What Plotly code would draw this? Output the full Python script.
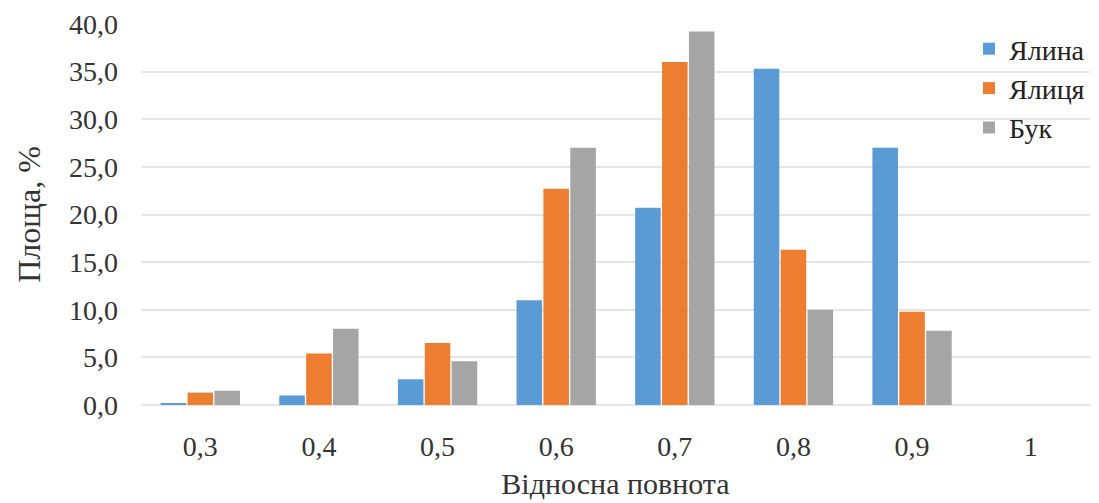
import plotly.graph_objects as go

categories = ["0,3", "0,4", "0,5", "0,6", "0,7", "0,8", "0,9", "1"]
yalyna = [0.2, 1.0, 2.7, 11.0, 20.7, 35.3, 27.0, 0.0]
yalytsia = [1.3, 5.4, 6.5, 22.7, 36.0, 16.3, 9.8, 0.0]
buk = [1.5, 8.0, 4.6, 27.0, 39.2, 10.0, 7.8, 0.0]
series_names = ["Ялина", "Ялиця", "Бук"]
colors = ["#5b9bd5", "#ed7d31", "#a5a5a5"]

font = "Liberation Serif, Times New Roman, serif"

fig = go.Figure()
for name, vals, c in zip(series_names, [yalyna, yalytsia, buk], colors):
    fig.add_trace(go.Bar(x=categories, y=vals, name=name, marker=dict(color=c, line=dict(width=0))))

fig.update_layout(
    width=1099, height=503,
    barmode="group", bargap=0.32, bargroupgap=0.05,
    separators=", ",
    plot_bgcolor="white", paper_bgcolor="white",
    margin=dict(l=133, r=17, t=16, b=106),
    font=dict(family=font, size=28, color="#333333"),
    legend=dict(x=1.0, y=1.0, xanchor="right", yanchor="top",
                font=dict(family=font, size=28, color="#222222"),
                bgcolor="rgba(255,255,255,0)", itemwidth=30, tracegroupgap=0),
    xaxis=dict(title=dict(text="Відносна повнота", font=dict(family=font, size=30, color="#333333"), standoff=11),
               tickfont=dict(family=font, size=28), showgrid=False, showline=False, ticks="",
               ticklabelstandoff=22, automargin=False),
    yaxis=dict(title=dict(text="Площа, %", font=dict(family=font, size=32, color="#333333"), standoff=18),
               range=[0, 40], dtick=5, tickformat=".1f", tickfont=dict(family=font, size=28),
               showgrid=True, gridcolor="#e6e6e6", gridwidth=1.5, zeroline=True,
               zerolinecolor="#e6e6e6", zerolinewidth=1.5, showline=False, ticks="",
               ticklabelstandoff=22, automargin=False),
)

fig.write_html("out.html")
